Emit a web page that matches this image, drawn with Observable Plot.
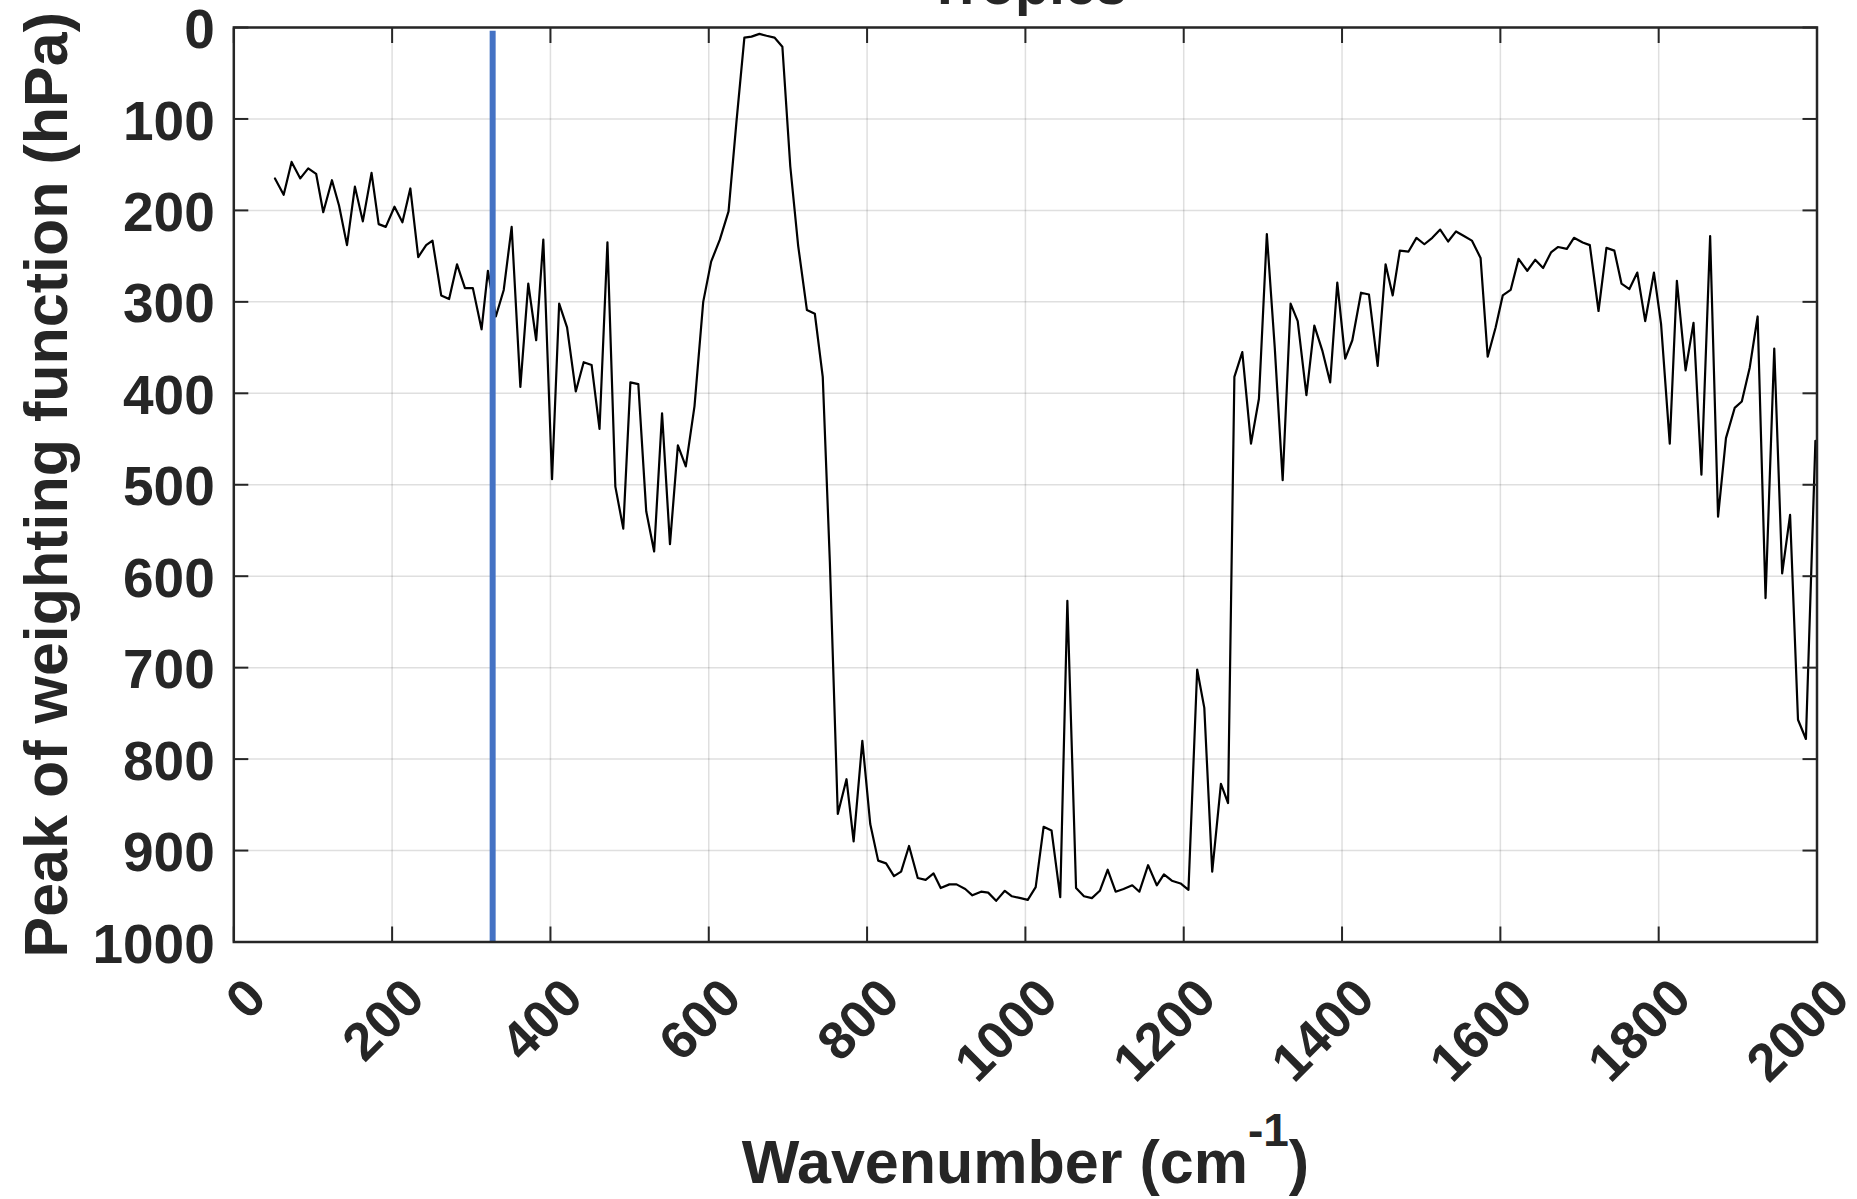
<!DOCTYPE html>
<html>
<head>
<meta charset="utf-8">
<script src="https://cdn.jsdelivr.net/npm/d3@7"></script>
<script src="https://cdn.jsdelivr.net/npm/@observablehq/plot@0.6"></script>
<style>
  html, body { margin: 0; padding: 0; background: #ffffff; }
  #chart svg { display: block; }
</style>
</head>
<body>
<div id="chart"></div>
<script>
// Wavenumber (cm-1) of each channel
const wavenumber = [52,63,73,84,94,104,113,124,133,143,153,163,174,183,192,203,213,223,233,243,251,262,272,282,292,302,313,321,331,341,351,362,372,382,391,402,411,421,432,442,452,462,472,482,492,501,511,521,531,541,551,561,571,582,593,603,614,625,635,645,654,664,673,683,693,703,713,724,734,744,753,763,774,783,794,804,814,824,834,843,853,864,874,884,893,904,913,924,933,944,953,963,974,983,994,1003,1013,1023,1033,1044,1053,1064,1074,1084,1094,1104,1114,1124,1135,1144,1155,1166,1175,1185,1196,1206,1217,1226,1236,1247,1256,1264,1274,1285,1295,1305,1315,1325,1335,1344,1355,1365,1375,1385,1394,1404,1413,1424,1434,1445,1455,1464,1473,1484,1494,1504,1514,1524,1534,1544,1554,1564,1575,1584,1594,1603,1613,1623,1634,1644,1654,1664,1673,1684,1693,1704,1713,1724,1734,1744,1753,1763,1773,1783,1794,1803,1814,1823,1834,1844,1854,1865,1875,1885,1896,1905,1915,1925,1935,1946,1956,1966,1976,1986,1998];
// Peak of weighting function (hPa)
const peakPressure = [165,183,147,165,154,160,202,167,195,238,174,212,159,215,218,196,213,176,251,238,233,293,297,259,285,285,330,266,316,287,218,393,280,342,232,494,302,328,398,366,369,439,235,502,548,388,390,529,573,422,565,457,480,414,300,256,232,201,103,11,10,7,9,11,21,152,239,309,313,382,585,860,822,890,780,871,911,914,928,923,895,930,932,925,941,937,937,942,949,945,946,955,944,950,952,954,940,874,878,951,627,941,950,952,944,921,945,942,938,945,916,938,926,933,936,943,702,744,923,827,848,382,355,455,406,226,350,495,302,321,402,326,353,388,279,362,342,290,292,370,259,293,244,245,230,237,230,221,234,223,228,233,252,360,328,293,287,253,266,254,263,246,240,242,230,235,238,310,241,244,280,286,268,321,268,324,455,277,375,323,489,228,535,449,416,409,372,316,624,351,597,533,757,778,452];
// Highlighted channel
const channelWavenumber = [327];
// Axis ticks
const xTicks = [0,200,400,600,800,1000,1200,1400,1600,1800,2000];
const yTicks = [0,100,200,300,400,500,600,700,800,900,1000];
const titleText = ["Tropics"];
const xLabel = ["Wavenumber (cm-1)"];
const yLabel = ["Peak of weighting function (hPa)"];

const table = wavenumber.map((w, i) => ({wn: w, p: peakPressure[i]}));

const ink = "#262626";
const W = 1857, H = 1199;
const mL = 233.3, mR = 40.5, mT = 27, mB = 257.5;

const svg = Plot.plot({
  width: W,
  height: H,
  marginLeft: mL,
  marginRight: mR,
  marginTop: mT,
  marginBottom: mB,
  style: {
    fontFamily: "'Liberation Sans', Arial, Helvetica, sans-serif",
    fontWeight: "bold",
    fontSize: "54px",
    color: ink,
    background: "#ffffff",
    overflow: "visible"
  },
  x: {domain: [0, 2000]},
  y: {domain: [0, 1000], reverse: true},
  marks: [
    Plot.gridX(xTicks, {stroke: ink, strokeOpacity: 0.15, strokeWidth: 1.5}),
    Plot.gridY(yTicks, {stroke: ink, strokeOpacity: 0.15, strokeWidth: 1.5}),
    Plot.line(table, {x: "wn", y: "p", stroke: "#000000", strokeWidth: 2.2}),
    Plot.ruleX(channelWavenumber, {x: d => d, y1: 4, y2: 1000, stroke: "#4472C4", strokeWidth: 6}),
    Plot.frame({stroke: ink, strokeWidth: 2.5}),
    // inward ticks on all four sides
    Plot.axisX(xTicks, {anchor: "bottom", tickSize: -15, tickFormat: () => "", stroke: ink, strokeWidth: 2, label: null}),
    Plot.axisX(xTicks, {anchor: "top", tickSize: -15, tickFormat: () => "", stroke: ink, strokeWidth: 2, label: null}),
    Plot.axisY(yTicks, {anchor: "left", tickSize: -15, tickFormat: () => "", stroke: ink, strokeWidth: 2, label: null}),
    Plot.axisY(yTicks, {anchor: "right", tickSize: -15, tickFormat: () => "", stroke: ink, strokeWidth: 2, label: null}),
    // tick labels
    Plot.axisX(xTicks, {anchor: "bottom", tickSize: 0, tickPadding: 0, tickRotate: -45, textAnchor: "end", lineAnchor: "middle", dx: 23, dy: 47, fontSize: 53, fontWeight: "bold", tickFormat: "d", label: null}),
    Plot.axisY(yTicks, {anchor: "left", tickSize: 0, tickPadding: 19, dy: 3, fontSize: 55, fontWeight: "bold", tickFormat: "d", label: null}),
    // title (mostly above the page edge, as in the reference)
    Plot.text(titleText, {frameAnchor: "top", dx: 2, dy: 3 - mT, lineAnchor: "bottom", fontSize: 56, fontWeight: "bold", fill: ink}),
    // axis labels
    Plot.text(xLabel, {frameAnchor: "bottom", textAnchor: "middle", dy: 1182 - (H - mB), lineAnchor: "bottom", fontSize: 61, fontWeight: "bold", fill: ink}),
    Plot.text(yLabel, {frameAnchor: "left", textAnchor: "middle", rotate: -90, dx: 66.7 - mL, lineAnchor: "bottom", fontSize: 61, fontWeight: "bold", fill: ink})
  ]
});

// superscript for the x-axis label unit
const t = Array.from(svg.querySelectorAll("text")).find(el => el.textContent === xLabel[0]);
if (t) {
  const sel = d3.select(t);
  sel.text(null);
  sel.append("tspan").text("Wavenumber (cm");
  sel.append("tspan").attr("font-size", 46).attr("dy", -37).text("-1");
  sel.append("tspan").attr("dy", 37).text(")");
}

document.getElementById("chart").appendChild(svg);
</script>
</body>
</html>
